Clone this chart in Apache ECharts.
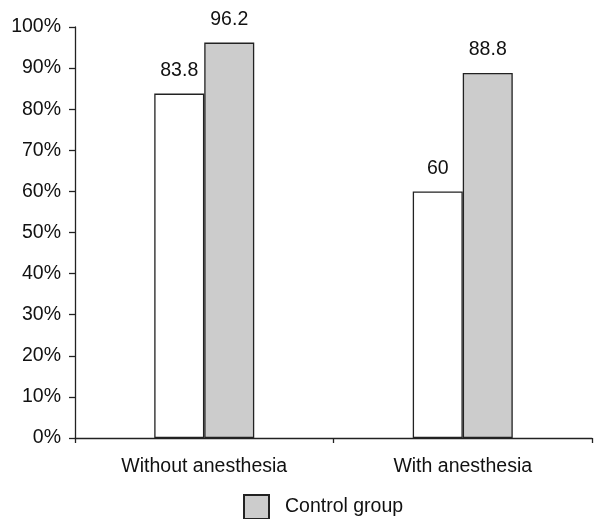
<!DOCTYPE html>
<html>
<head>
<meta charset="utf-8">
<script src="https://cdn.jsdelivr.net/npm/echarts@6/dist/echarts.min.js"></script>
<style>html,body{margin:0;padding:0;background:#fff}#c{width:595px;height:519px}</style>
</head>
<body>
<div id="c"></div>
<script>
var categories = ['Without anesthesia', 'With anesthesia'];
var studyValues = [83.8, 60];
var controlValues = [96.2, 88.8];
var yTicks = [0, 10, 20, 30, 40, 50, 60, 70, 80, 90, 100];

var FONT = '"Liberation Sans", Arial, sans-serif';
var chart = echarts.init(document.getElementById('c'), null, {renderer: 'canvas'});
var labelCfg = {
  show: true, position: 'top', distance: 13,
  color: '#111', fontFamily: FONT, fontSize: 19.5
};
chart.setOption({
  animation: false,
  backgroundColor: '#fff',
  grid: {left: 75, right: 3, top: 27, bottom: 81, containLabel: false},
  legend: {
    data: ['Control group'],
    left: 243, top: 494, padding: 0,
    itemWidth: 25, itemHeight: 24,
    icon: 'rect',
    textStyle: {color: '#111', fontFamily: FONT, fontSize: 19.5, padding: [0, 0, 0, 11]}
  },
  xAxis: {
    type: 'category',
    data: categories,
    axisLine: {lineStyle: {color: '#222', width: 1.3}},
    axisTick: {show: true, length: 5, lineStyle: {color: '#222', width: 1.3}},
    axisLabel: {color: '#111', fontFamily: FONT, fontSize: 19.5, margin: 19}
  },
  yAxis: {
    type: 'value',
    min: yTicks[0], max: yTicks[yTicks.length - 1], interval: 10,
    splitLine: {show: false},
    axisLine: {show: true, lineStyle: {color: '#222', width: 1.3}},
    axisTick: {show: true, length: 6, lineStyle: {color: '#222', width: 1.3}},
    axisLabel: {color: '#111', fontFamily: FONT, fontSize: 19.5, margin: 14, formatter: '{value}%'}
  },
  series: [
    {
      name: 'Study group', type: 'bar', data: studyValues,
      barWidth: 50, barGap: '0%',
      itemStyle: {color: '#ffffff', borderColor: '#222', borderWidth: 1.3},
      label: labelCfg
    },
    {
      name: 'Control group', type: 'bar', data: controlValues,
      barWidth: 50, barGap: '0%',
      itemStyle: {color: '#cccccc', borderColor: '#222', borderWidth: 1.3},
      label: labelCfg
    }
  ]
});
</script>
</body>
</html>
